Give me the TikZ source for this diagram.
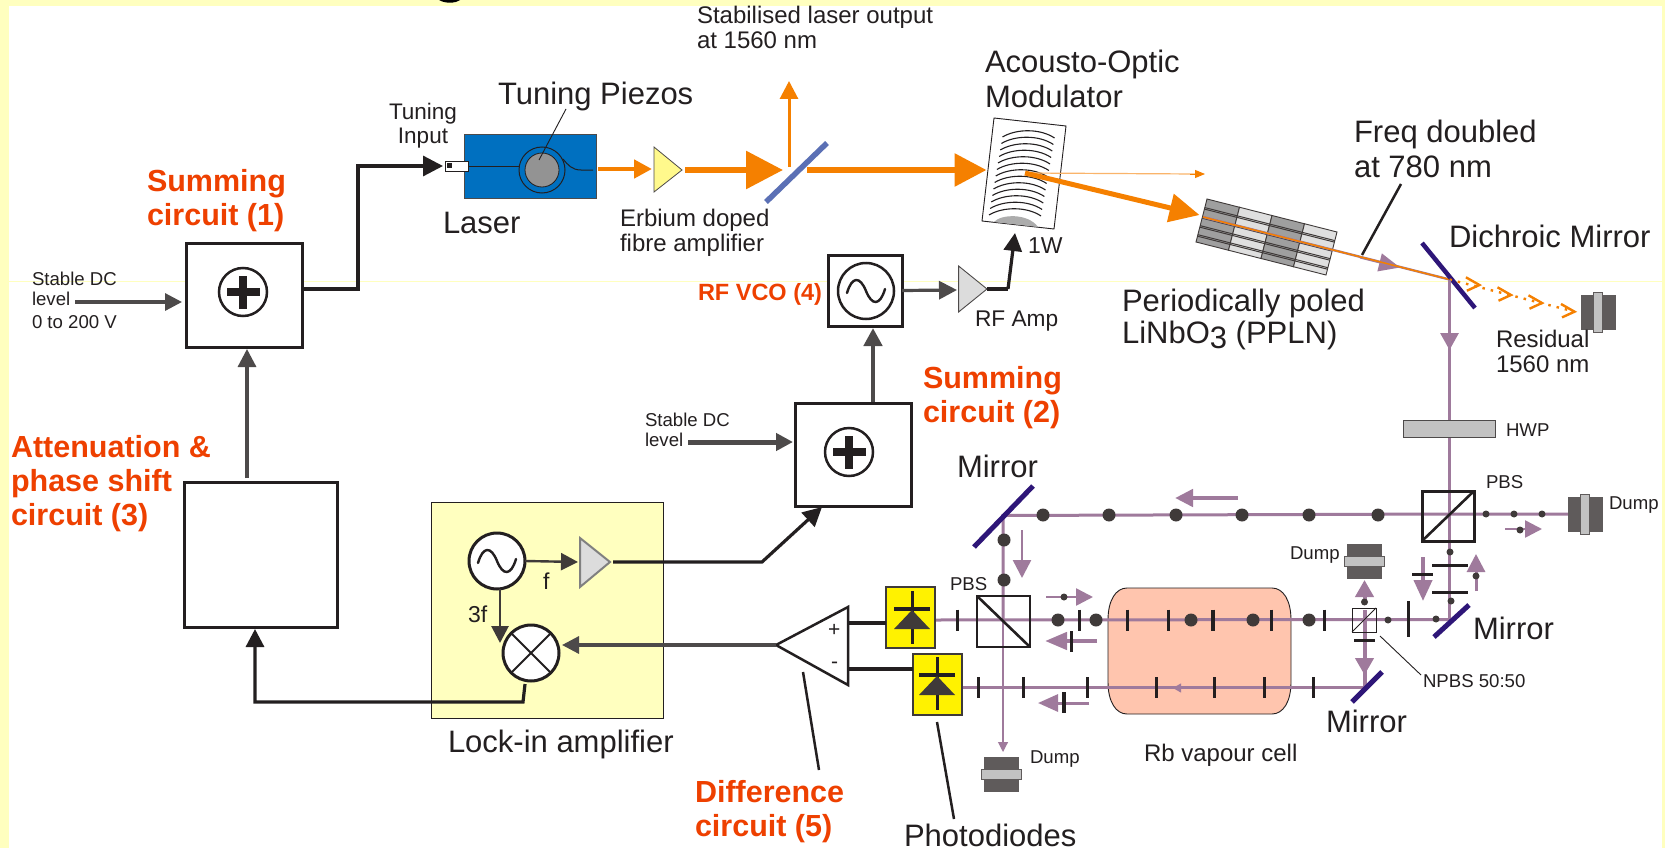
\documentclass[tikz,border=0pt]{standalone}
\usepackage{fontspec}
\setmainfont{Liberation Sans}
\usetikzlibrary{arrows.meta,calc}
\definecolor{ink}{HTML}{231F20}
\definecolor{sig}{HTML}{4D4A4A}
\definecolor{paleY}{HTML}{FFFFBF}
\definecolor{orng}{HTML}{F58000}
\definecolor{lorng}{HTML}{FAB46A}
\definecolor{redo}{HTML}{EE4000}
\definecolor{purp}{HTML}{9F7A9C}
\definecolor{indigo}{HTML}{2E1678}
\definecolor{bluel}{HTML}{0070C0}
\definecolor{bsblue}{HTML}{5B70B5}
\definecolor{dumpc}{HTML}{5F5B5B}
\definecolor{stripc}{HTML}{C2C2C2}
\definecolor{cellc}{HTML}{FFC5AE}
\definecolor{tridark}{HTML}{3F3A39}
\definecolor{ampg}{HTML}{DCDCDC}
\tikzset{
  lab/.style={anchor=base west,inner sep=0pt,outer sep=0pt,text=ink,align=left},
  fa/.style={lab,font=\fontsize{18.6}{20}\selectfont},
  fb/.style={lab,font=\fontsize{24}{25}\selectfont},
  fc/.style={lab,font=\fontsize{31}{35}\selectfont},
  fr/.style={lab,text=redo,font=\fontsize{30.5}{34}\selectfont\bfseries},
  box/.style={draw=ink,line width=3pt,fill=white,inner sep=0pt,outer sep=0pt},
  ring/.style={circle,draw=ink,line width=3pt,fill=white,inner sep=0pt,outer sep=0pt},
  wire/.style={line width=3.2pt,draw=ink},
  sigw/.style={line width=3.2pt,draw=sig},
  hd/.style={-{Triangle[length=#1,width=#1]}},
  mirror/.style={line width=5pt,draw=indigo},
  beam/.style={line width=3pt,draw=purp},
  tickm/.style={line width=3pt,draw=ink},
  dotL/.style={circle,fill=tridark,minimum size=13pt,inner sep=0pt,outer sep=0pt},
  dotS/.style={circle,fill=tridark,minimum size=7pt,inner sep=0pt,outer sep=0pt},
  leader/.style={draw=ink,line width=2.5pt},
  thin leader/.style={draw=ink,line width=0.9pt},
  sinewave/.pic={\draw[ink,line width=2.4pt,line cap=round] (-19,2) .. controls (-14,-15) and (-6,-15) .. (0,0) .. controls (6,15) and (14,15) .. (19,-2);},
  plussign/.pic={\fill[ink] (-16.5,-4.3) rectangle (16.5,4.3);\fill[ink] (-4,-16.5) rectangle (4,16.5);},
  pdiode/.pic={\draw[ink,line width=3pt] (0,-27.5) -- (0,25.5);\draw[ink,line width=4pt] (-18,-9.5) -- (18,-9.5);\fill[tridark] (0,-8.5) -- (18,10.5) -- (-18,10.5) -- cycle;},
  dumpv/.pic={\fill[dumpc] (-17.5,-17.5) rectangle (17.5,17.5);\fill[stripc] (-5,-20) rectangle (4,20);\draw[dumpc,line width=.7pt] (-5,-20) rectangle (4,20);},
  dumph/.pic={\fill[dumpc] (-17.5,-17.5) rectangle (17.5,17.5);\fill[stripc] (-20,-5) rectangle (20,5);\draw[dumpc,line width=.7pt] (-20,-5) rectangle (20,5);},
}
\begin{document}
\begin{tikzpicture}[x=1pt,y=-1pt,line join=miter]
\useasboundingbox (0,0) rectangle (1665,848);
% page
\fill[paleY] (0,0) rectangle (1665,848);
\fill[white] (9,6) rectangle (1662,848);
\draw[paleY,line width=1pt] (9,281) -- (1662,281);
\fill[black] (439,0) .. controls (445,3.6) and (455,3.6) .. (460,0) -- cycle;

% ---- electronics blocks
\node[box,minimum width=116pt,minimum height=104pt] (s1) at (244,295) {};
\node[ring,minimum size=48pt,line width=2.5pt] (p1) at (243,292) {};
\pic at (p1) {plussign};
\node[box,minimum width=153pt,minimum height=145pt] (s3) at (260.5,554.5) {};
\node[box,minimum width=116pt,minimum height=103pt] (s2) at (853,454.5) {};
\node[ring,minimum size=48pt,line width=2.5pt] (p2) at (849,452) {};
\pic at (p2) {plussign};
\node[box,minimum width=74pt,minimum height=71pt] (vco) at (865,290.5) {};
\node[ring,minimum size=56pt,line width=2.5pt] (vcoOsc) at (866,291) {};
\pic at (vcoOsc) {sinewave};
\node[fill=paleY,draw=ink,line width=1pt,minimum width=232pt,minimum height=216pt,inner sep=0pt,outer sep=0pt] (lockin) at (547,610) {};
\node[ring,minimum size=56pt] (osc) at (497,561) {};
\pic at (osc) {sinewave};
\node[ring,minimum size=56pt] (mix) at (531,653) {};
\draw[ink,line width=2pt] (mix.45) -- (mix.225) (mix.135) -- (mix.315);

% RF amp and lock-in amp triangles
\coordinate (rfIn) at (957,290);
\coordinate (rfOut) at (987,289);
\fill[ampg,draw=sig,line width=.9pt] (958.6,266) -- (rfOut) -- (958.6,312) -- cycle;
\coordinate (liOut) at (610,562);
\fill[ampg,draw=gray,line width=2pt] (580,538) -- (liOut) -- (580,587) -- cycle;
% difference amp
\coordinate (daOut) at (776,645);
\coordinate (daP) at (848,623);
\coordinate (daM) at (848,669);
\fill[white,draw=ink,line width=2.5pt] (848,607) -- (daOut) -- (848,685) -- cycle;
\node[lab,font=\fontsize{21}{22}\selectfont] (tplus) at (828,636) {+};
\node[lab,font=\fontsize{21}{22}\selectfont] (tminus) at (831,668) {-};

% ---- signal connectors
\coordinate (c1a) at (358,289);
\coordinate (c1b) at (358,166);
\coordinate (tin) at (443,166);
\draw[wire,hd=20pt] (304,289) -- (c1a) -- (c1b) -- (tin);
\coordinate (dc1) at (75,302);
\draw[sigw,hd=17pt] (dc1) -- (182,302);
\coordinate (s3top) at (247,478);
\draw[sigw,hd=18pt] (s3top) -- (247,349);
\coordinate (c3a) at (255,702);
\coordinate (c3b) at (523,702);
\draw[wire,hd=18pt] (525,684) -- (c3b) -- (c3a) -- (255,629);
\coordinate (dc2) at (688,442);
\draw[sigw,hd=17pt,line width=5pt] (dc2) -- (793,442);
\draw[sigw,hd=18pt,line width=4.5pt] (873,402) -- (873,328);
\draw[sigw,hd=18pt] (vco.east) -- (rfIn);
\coordinate (rfa) at (1008,289);
\coordinate (rfb) at (1015,233);
\draw[wire,hd=18pt] (rfa) -- (rfb);
\draw[ink,line width=4.5pt] (rfOut) -- (rfa);
\draw[tridark,line width=2.4pt,-{Triangle[length=17pt,width=17pt]}] (osc.east) -- (578,562);
\coordinate (oscS) at (500,589);
\draw[tridark,line width=2.8pt,-{Triangle[length=17pt,width=17pt]}] (oscS) -- (500,643);
\coordinate (lia) at (762,562);
\draw[wire,hd=19pt] (613,562) -- (lia) -- (822,507);
\draw[sigw,hd=17pt] (daOut) -- (562,645);

% ---- laser head
\node[fill=bluel,draw=sig,line width=.8pt,minimum width=132pt,minimum height=64pt,inner sep=0pt,outer sep=0pt] (laser) at (530,166) {};
\node[fill=white,draw=ink,line width=.8pt,minimum width=23pt,minimum height=10pt,inner sep=0pt,outer sep=0pt] (tconn) at (456.5,166) {};
\node[fill=ink,minimum size=5pt,inner sep=0pt,outer sep=0pt] (tpin) at (449.5,165.5) {};
\node[circle,draw=ink,line width=1pt,minimum size=46pt,inner sep=0pt,outer sep=0pt] (piezoR) at (542,170) {};
\node[circle,fill=gray!85,draw=ink,line width=.8pt,minimum size=34pt,inner sep=0pt,outer sep=0pt] (piezo) at (542,170) {};
\coordinate (fEnd) at (593,170);
\draw[ink,line width=1pt] (tconn.east) -- (piezoR.west |- tconn.east);
\draw[ink,line width=1pt] (563,159) .. controls (568,165) and (572,170) .. (581,170) -- (fEnd);
\draw[thin leader] (566,109) -- (539,160);

% ---- 1560 nm beam
\coordinate (edfaOut) at (682,170);
\fill[yellow!45,draw=sig,line width=.8pt] (654,147) -- (edfaOut) -- (654,192) -- cycle;
\draw[orng,line width=4.7pt,hd=18pt] (598,169) -- (652,169);
\draw[orng,line width=6pt,-{Triangle[length=37pt,width=37pt]}] (685,170) -- (783,170);
\coordinate (upOut) at (789,81);
\draw[orng,line width=3pt,hd=18pt] (789,167) -- (upOut);
\coordinate (bsA) at (766,202);
\coordinate (bsB) at (827,143);
\draw[bsblue,line width=5.5pt] (bsA) -- (bsB);
% AOM
\coordinate (aom1) at (994,118);
\coordinate (aom2) at (1066,126);
\coordinate (aom3) at (1054,229);
\coordinate (aom4) at (982,221);
\fill[white,draw=ink,line width=.9pt] (aom1) -- (aom2) -- (aom3) -- (aom4) -- cycle;
\foreach \i in {0,...,12}{
  \pgfmathsetmacro\cx{1028.5-13.5*\i/12}
  \pgfmathsetmacro\cy{130+78*\i/12}
  \draw[ink,line width=1.1pt] (\cx-26,\cy+7) .. controls (\cx-12,\cy-1.5) and (\cx+12,\cy-1.5) .. (\cx+26,\cy+8);
}
\fill[gray!65] (994,222) .. controls (1001,214) and (1028,213) .. (1038,227) -- cycle;
\draw[orng,line width=6pt,-{Triangle[length=32pt,width=32pt]}] (807,170) -- (986.5,170);
\coordinate (aomC) at (1025,173);
\draw[lorng,line width=1.2pt] (aomC) -- (1196,174);
\draw[orng,line width=1pt,-{Triangle[length=10pt,width=8pt]}] (1190,174) -- (1205,174);
% PPLN
\begin{scope}[shift={(1207,199)},x={(130pt,-33pt)},y={(-11pt,-43pt)}]
  \foreach \a/\b/\shade in {0/.25/75,.25/.5/25,.5/.75/75,.75/1/25}{
    \fill[gray!\shade,draw=tridark,line width=.9pt] (\a,0) -- (\b,0) -- (\b,1) -- (\a,1) -- cycle;
  }
  \foreach \r in {.2,.41,.62,.83}{
    \draw[tridark,line width=1pt] (0,\r) -- (1,\r);
    \draw[tridark,line width=1pt] (0,\r+.035) -- (1,\r+.035);
  }
\end{scope}
\draw[orng,line width=5pt,-{Triangle[length=30pt,width=28pt]}] (aomC) -- (1199.5,215);
% 780 beam from PPLN to dichroic
\coordinate (pplnC) at (1203,217);
\coordinate (dich) at (1449.5,279.5);
\draw[purp,line width=2.4pt] (pplnC) -- (dich);
\draw[purp,line width=2pt,-{Triangle[length=21pt,width=18pt]}] (1360,257.5) -- (1400,267.5);
\draw[orng,line width=1.5pt] (pplnC) -- (dich);
\draw[leader] (1401,184) -- (1362,255);
\coordinate (dichA) at (1422,243);
\coordinate (dichB) at (1475,308);
\draw[mirror,line width=4.5pt] (dichA) -- (dichB);
% residual 1560
\coordinate (resEnd) at (1574,311.5);
\draw[orng,line width=2.4pt,dash pattern=on 2.5pt off 6pt] (dich) -- (resEnd);
\foreach \tx/\ty in {1479.4/285,1511/295,1542/303,1574.5/311.7}{
  \draw[orng,line width=2.4pt] (\tx-13.5,\ty-7.7) -- (\tx,\ty) -- (\tx-12.5,\ty+5.7);
}
\pic at (1598,312.5) {dumpv};

% ---- 780 nm beam path
\coordinate (pbs2c) at (1449.5,514);
\coordinate (mR) at (1449.5,619.5);
\draw[beam] (dich) -- (mR);
\draw[purp,line width=3pt,-{Triangle[length=17pt,width=18pt]}] (1449.5,320) -- (1449.5,350);
\node[fill=stripc,draw=sig,line width=.5pt,minimum width=92pt,minimum height=17pt,inner sep=0pt,outer sep=0pt] (hwp) at (1449,428.5) {};
% vapour cell
\fill[cellc,draw=ink,line width=.9pt] (1108,620) .. controls (1108,600) and (1116,588) .. (1127,588) -- (1272,588) .. controls (1283,588) and (1291,600) .. (1291,620) -- (1291,682) .. controls (1291,702) and (1283,714) .. (1272,714) -- (1127,714) .. controls (1116,714) and (1108,702) .. (1108,682) -- cycle;
\coordinate (mT) at (1003,515.5);
\coordinate (dumpRin) at (1568,514);
\coordinate (pd1in) at (935,620);
\coordinate (pd2in) at (962,687.5);
\coordinate (mL) at (1365,687.5);
\draw[beam] (dumpRin) -- (pbs2c) -- (mT) -- (1003,620);
\draw[purp,line width=1.1pt,-{Triangle[length=10pt,width=10pt]}] (1003,620) -- (1003,752);
\draw[beam] (pd1in) -- (mR);
\draw[beam] (pd2in) -- (mL);
\draw[beam,line width=4pt] (mL) -- (1365,610);
\draw[purp,line width=1pt,-{Triangle[length=8pt,width=9pt]}] (1190,688) -- (1173,688);
% mirrors
\coordinate (mTa) at (974,547);
\coordinate (mTb) at (1033,486);
\draw[mirror] (mTa) -- (mTb);
\coordinate (mRa) at (1434,637);
\coordinate (mRb) at (1469,605);
\draw[mirror] (mRa) -- (mRb);
\coordinate (mLa) at (1352,702);
\coordinate (mLb) at (1382,672);
\draw[mirror] (mLa) -- (mLb);
% cubes
\node[draw=ink,line width=3pt,minimum width=52pt,minimum height=50pt,inner sep=0pt,outer sep=0pt] (pbs2) at (1448,516) {};
\draw[ink,line width=2.6pt] (pbs2.south west) -- (pbs2.north east);
\node[draw=ink,line width=2.6pt,minimum width=53pt,minimum height=51pt,inner sep=0pt,outer sep=0pt] (pbs1) at (1003.5,621.5) {};
\draw[ink,line width=2.6pt] (pbs1.north west) -- (pbs1.south east);
\node[draw=ink,line width=.9pt,minimum width=24pt,minimum height=24pt,inner sep=0pt,outer sep=0pt] (npbs) at (1364,620) {};
\draw[ink,line width=.8pt] (npbs.south west) -- (npbs.north east);
% NPBS arrows
\draw[purp,line width=4pt,-{Triangle[length=17pt,width=18pt]}] (1364.5,604) -- (1364.5,580);
\draw[purp,line width=4pt,-{Triangle[length=17pt,width=18pt]}] (1364.5,640) -- (1364.5,675);
% dumps
\pic at (1585,514.5) {dumpv};
\pic at (1364.5,561.5) {dumph};
\pic at (1001.5,774.5) {dumph};
% dots
\foreach \x in {1043,1109,1176,1242,1309,1378}{\node[dotL] (dT\x) at (\x,515) {};}
\node[dotL] (dV1) at (1004,540) {};
\node[dotL] (dV2) at (1004,580) {};
\foreach \x in {1058,1096,1191,1253,1309}{\node[dotL] (dU\x) at (\x,620) {};}
\foreach \x in {1486,1514,1542}{\node[dotS] (dR\x) at (\x,514) {};}
\node[dotS] (dS1) at (1388,620) {};
\node[dotS] (dS2) at (1436,619) {};
\node[dotS] (dS3) at (1450,552) {};
\node[dotS] (dS4) at (1451,601) {};
\node[dotS] (dS5) at (1364.5,602) {};
% ticks
\foreach \x in {957,1079,1127,1168,1271,1324}{\draw[tickm] (\x,609.5) -- (\x,630.5);}
\draw[tickm,line width=4.5pt] (1213,609.5) -- (1213,630.5);
\foreach \x in {978,1023,1087,1156,1214,1264,1313}{\draw[tickm] (\x,677) -- (\x,698);}
\draw[tickm] (1408,601) -- (1408,637);
\draw[tickm] (1432,565) -- (1468,565);
\draw[tickm] (1432,592) -- (1468,592);
\draw[tickm] (1354,640) -- (1375,640);
% direction arrows
\draw[purp,line width=4.5pt,-{Triangle[length=18pt,width=17pt]}] (1238,498) -- (1175,498);
\draw[purp,line width=2.5pt,-{Triangle[length=18pt,width=18pt]}] (1022,530) -- (1022,578);
\draw[purp,line width=2.5pt,-{Triangle[length=17pt,width=17pt]}] (1046,597) -- (1093,597);
\node[dotS] (dA1) at (1064,597) {};
\draw[purp,line width=4.5pt,-{Triangle[length=22pt,width=17pt]}] (1097,641) -- (1045,641);
\draw[tickm] (1071,631) -- (1071,652);
\draw[purp,line width=3pt,-{Triangle[length=20pt,width=17pt]}] (1089,703) -- (1038,703);
\draw[tickm,line width=4pt] (1064,692) -- (1064,713);
\draw[purp,line width=4pt,-{Triangle[length=21pt,width=18pt]}] (1423,557) -- (1423,601);
\draw[tickm] (1412,574) -- (1433,574);
\draw[purp,line width=3pt,-{Triangle[length=18pt,width=18pt]}] (1476,591) -- (1476,554);
\node[dotS] (dA2) at (1476,576) {};
\draw[purp,line width=2.5pt,-{Triangle[length=17pt,width=17pt]}] (1505,529) -- (1542,529);
\node[dotS] (dA3) at (1520,530) {};
% photodiodes
\node[fill=yellow,draw=tridark,line width=2pt,minimum width=49pt,minimum height=61pt,inner sep=0pt,outer sep=0pt] (pd1) at (910.5,617.5) {};
\pic at (912,618.5) {pdiode};
\node[fill=yellow,draw=tridark,line width=2pt,minimum width=49pt,minimum height=61pt,inner sep=0pt,outer sep=0pt] (pd2) at (937.5,684.5) {};
\pic at (937,684.5) {pdiode};
\draw[wire] (pd1.west |- daP) -- (daP);
\draw[wire] (pd2.west |- daM) -- (daM);
% leaders
\draw[leader] (803,672) -- (819,770);
\draw[leader] (937,722) -- (954,819);
\draw[thin leader] (1380,636) -- (1421,675);

% ---- texts (multi-line nodes are anchored on the last baseline)
\node[fa] (tDC1) at (32,328) {Stable DC\\level\\[3pt]0 to 200 V};
\node[fa] (tDC2) at (645,446) {Stable DC\\level};
\node[fr] (tS1) at (147,225) {Summing\\circuit (1)};
\node[fr] (tS2) at (923,422) {Summing\\circuit (2)};
\node[fr] (tS3) at (11,525) {Attenuation \&\\phase shift\\circuit (3)};
\node[fr] (tS5) at (695,836) {Difference\\circuit (5)};
\node[lab,text=redo,font=\fontsize{23.5}{25}\selectfont\bfseries] (tS4) at (698,300) {RF VCO (4)};
\node[lab,font=\fontsize{22.5}{24}\selectfont,align=center,anchor=base] (tTI) at (423,143) {Tuning\\Input};
\node[fc] (tTP) at (498,105) {Tuning Piezos};
\node[fc] (tLa) at (443,233) {Laser};
\node[fb] (tOut) at (697,49) {Stabilised laser output\\at 1560 nm};
\node[fb] (tEr) at (620,251) {Erbium doped\\fibre amplifier};
\node[fc] (tAOM) at (985,108) {Acousto-Optic\\Modulator};
\node[fc] (tFD) at (1354,177) {Freq doubled\\at 780 nm};
\node[fc] (tDM) at (1449,247) {Dichroic Mirror};
\node[fc] (tPP) at (1122,343) {Periodically poled\\[-3pt]LiNbO\raisebox{-5pt}{3} (PPLN)};
\node[lab,font=\fontsize{23}{24}\selectfont] (t1W) at (1028,253) {1W};
\node[lab,font=\fontsize{22.7}{24}\selectfont] (tRFA) at (975,326) {RF Amp};
\node[fb] (tRes) at (1496,372) {Residual\\1560 nm};
\node[fa] (tHWP) at (1506,436) {HWP};
\node[fa] (tPBSa) at (1486,488) {PBS};
\node[fa] (tPBSb) at (950,590) {PBS};
\node[fa] (tD1) at (1609,509) {Dump};
\node[fa] (tD2) at (1290,559) {Dump};
\node[fa] (tD3) at (1030,763) {Dump};
\node[fa] (tNP) at (1423,687) {NPBS 50:50};
\node[fc] (tM1) at (957,477) {Mirror};
\node[fc] (tM2) at (1473,639) {Mirror};
\node[fc] (tM3) at (1326,732) {Mirror};
\node[fb] (tRb) at (1144,761) {Rb vapour cell};
\node[fc] (tPD) at (904,846) {Photodiodes};
\node[fc] (tLI) at (448,752) {Lock-in amplifier};
\node[lab,font=\fontsize{23}{24}\selectfont] (tf) at (543,589) {f};
\node[lab,font=\fontsize{23}{24}\selectfont] (t3f) at (468,622) {3f};
\end{tikzpicture}
\end{document}
